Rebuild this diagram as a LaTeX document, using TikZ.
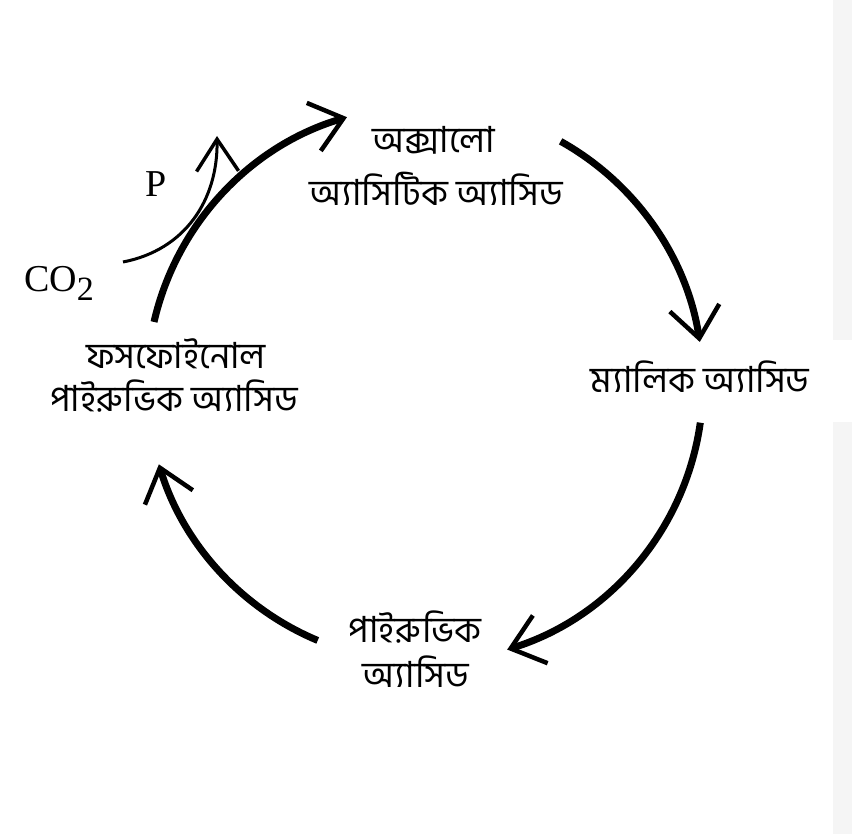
\documentclass[tikz,border=0pt]{standalone}
\usepackage{fontspec}
\setmainfont{Liberation Serif}
\newfontfamily\bn[Script=Bengali]{Hind Siliguri}
\usetikzlibrary{arrows.meta}
\begin{document}
\begin{tikzpicture}[x=1pt,y=1pt,
  bntext/.style={font=\bn\fontsize{36}{40}\selectfont, inner sep=0pt, anchor=base},
  latintext/.style={font=\fontsize{38}{40}\selectfont, inner sep=0pt, anchor=base west},
  cycarrow/.style={line width=7pt, -{Straight Barb[length=31pt,width=50pt,line width=4.5pt]}},
  sidearrow/.style={line width=3pt, -{Straight Barb[length=32pt,width=42pt,line width=3.5pt]}}]
\useasboundingbox (0,0) rectangle (852,-834);
\fill[black!4] (833,0) rectangle (852,-340);
\fill[black!4] (833,-422) rectangle (852,-834);
\coordinate (c) at (425,-384);
% text nodes
\node[bntext] (oaa1) at (434,-153) {অক্সালো};
\node[bntext] (oaa2) at (436,-206) {অ্যাসিটিক অ্যাসিড};
\node[bntext] (mal) at (700,-393) {ম্যালিক অ্যাসিড};
\node[bntext] (pyr1) at (415,-642) {পাইরুভিক};
\node[bntext] (pyr2) at (416,-687) {অ্যাসিড};
\node[bntext] (pep1) at (176,-369) {ফসফোইনোল};
\node[bntext] (pep2) at (174,-412) {পাইরুভিক অ্যাসিড};
\node[latintext] (p) at (145,-197) {P};
\node[latintext] (co) at (24,-292) {CO\raisebox{-9pt}{\fontsize{34}{34}\selectfont 2}};
% cycle arcs
\coordinate (a1) at ([shift={(167.1:278)}]c);
\coordinate (a2) at ([shift={(60.8:278)}]c);
\coordinate (a3) at ([shift={(-8.0:278)}]c);
\coordinate (a4) at ([shift={(-112.7:278)}]c);
\draw[cycarrow] (a1) arc[start angle=167.1, end angle=106.3, radius=278];
\draw[cycarrow] (a2) arc[start angle=60.8, end angle=8.7, radius=278];
\draw[cycarrow] (a3) arc[start angle=-8.0, end angle=-72.8, radius=278];
\draw[cycarrow] (a4) arc[start angle=-112.7, end angle=-163.2, radius=278];
% CO2 in, P out
\coordinate (in) at (123,-262);
\coordinate (out) at (217,-136);
\draw[sidearrow] (in) .. controls (185,-250) and (218,-200) .. (out);
\end{tikzpicture}
\end{document}
